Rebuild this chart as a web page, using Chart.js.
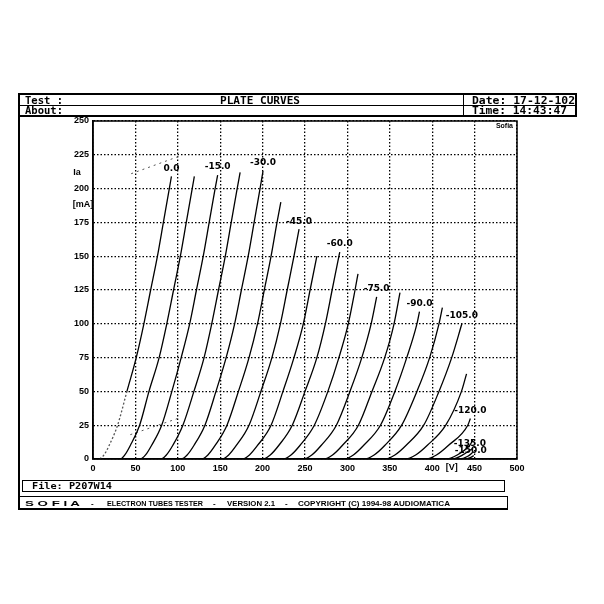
<!DOCTYPE html>
<html>
<head>
<meta charset="utf-8">
<script src="https://cdn.jsdelivr.net/npm/chart.js@4.4.1/dist/chart.umd.min.js"></script>
<style>
  html, body { margin: 0; padding: 0; background: #fff; }
  #wrap { position: relative; width: 604px; height: 604px; overflow: hidden; }
  canvas { position: absolute; left: 0; top: 0; }
  .ln { position: absolute; background: #000; }
  .t { position: absolute; font-family: 'DejaVu Sans Mono', monospace; font-weight: bold;
       font-size: 10px; line-height: 10px; color: #000; white-space: pre; transform-origin: left top; }
  .s { position: absolute; font-family: 'Liberation Sans', Arial, sans-serif; font-weight: bold;
       font-size: 8px; line-height: 8px; color: #000; white-space: pre; transform-origin: left top; }
</style>
</head>
<body>
<div id="wrap">
  <canvas id="plateChart" width="604" height="604"></canvas>

  <!-- header frame -->
  <div class="ln" style="left:18px;top:93px;width:559px;height:2px"></div>
  <div class="ln" style="left:18px;top:105px;width:559px;height:1px"></div>
  <div class="ln" style="left:18px;top:115px;width:559px;height:2px"></div>
  <div class="ln" style="left:18px;top:93px;width:2px;height:417px"></div>
  <div class="ln" style="left:575px;top:93px;width:2px;height:24px"></div>
  <div class="ln" style="left:463px;top:93px;width:1px;height:24px"></div>

  <div class="t fit" data-w="38" style="left:25px;top:96px">Test :</div>
  <div class="t fit" data-w="80" style="left:220px;top:96px">PLATE CURVES</div>
  <div class="t fit" data-w="38" style="left:25px;top:106px">About:</div>
  <div class="t fit" data-w="103" style="left:472px;top:96px">Date: 17-12-102</div>
  <div class="t fit" data-w="95" style="left:472px;top:106px">Time: 14:43:47</div>

  <!-- footer -->
  <div style="position:absolute;left:22px;top:480px;width:481px;height:10px;border:1px solid #000"></div>
  <div class="t fit" data-w="80" style="left:32px;top:481px;font-size:9.5px">File: P207W14</div>
  <div class="ln" style="left:18px;top:496px;width:490px;height:1px"></div>
  <div class="ln" style="left:18px;top:508px;width:490px;height:2px"></div>
  <div class="ln" style="left:507px;top:496px;width:1px;height:14px"></div>

  <div class="s fit" data-w="55" style="left:25px;top:500px">S O F I A</div>
  <div class="s" style="left:91px;top:500px">-</div>
  <div class="s fit" data-w="96" style="left:107px;top:500px">ELECTRON TUBES TESTER</div>
  <div class="s" style="left:213px;top:500px">-</div>
  <div class="s fit" data-w="48" style="left:227px;top:500px">VERSION 2.1</div>
  <div class="s" style="left:285px;top:500px">-</div>
  <div class="s fit" data-w="152" style="left:298px;top:500px">COPYRIGHT (C) 1994-98 AUDIOMATICA</div>
</div>

<script>
// axis ticks
const voltTicks = [0, 50, 100, 150, 200, 250, 300, 350, 400, 450, 500];
const ampTicks = [0, 25, 50, 75, 100, 125, 150, 175, 200, 225, 250];

// grid voltage of each plate curve (7.5 V steps, every second one is labelled)
const gridBias = ['0.0', '-7.5', '-15.0', '-22.5', '-30.0', '-37.5', '-45.0', '-52.5', '-60.0', '-67.5',
                  '-75.0', '-82.5', '-90.0', '-97.5', '-105.0', '-112.5', '-120.0', '-127.5', '-135.0',
                  '-142.5', '-150.0'];

// plate voltage [V] and plate current [mA]
const curveVolts = [
  [8, 13, 19, 29, 40, 51, 60, 68, 76, 83, 90, 92.5],
  [18, 32, 37.5, 44, 55, 66, 78, 87, 95, 103, 110, 117, 119.5],
  [42, 56, 62, 69, 81, 93, 104, 114, 122, 130, 137, 144, 147],
  [66, 80, 86.5, 94, 106, 119, 131, 140, 148, 156, 163, 170, 173.5],
  [90, 104, 111, 119, 132, 145, 157, 167, 175, 183, 190, 197, 200.5],
  [114, 128, 135.5, 144, 158, 171.5, 184, 194, 202, 210, 217, 221.5],
  [138, 152, 160, 169, 184, 198, 211, 221, 229, 237, 243],
  [162, 176, 184.5, 194, 210, 224, 237, 248, 256, 264],
  [186, 200, 209, 219, 235, 250, 264, 274, 282, 290, 291],
  [210, 224, 233.5, 244, 261, 277, 290, 301, 309, 312.5],
  [234, 248, 258, 269, 287, 303, 317, 328, 334.5],
  [258, 272, 282.5, 294, 313, 329, 344, 355, 362],
  [282, 296, 307, 319, 339, 356, 370, 382, 385],
  [306, 320, 331.5, 344, 364, 382, 397, 408, 412],
  [330, 344, 356, 369, 390, 408, 423, 435],
  [354, 368, 380.5, 394, 416, 434.5, 440.5],
  [378, 392, 405, 419, 442, 445],
  [402, 416, 429.5, 444, 448],
  [410, 424, 436, 448],
  [420, 432, 442, 448],
  [428, 438, 445, 449]
];
const curveAmps = [
  [0, 3, 10, 25, 50, 75, 100, 125, 150, 175, 200, 209],
  [0, 0, 3, 10, 25, 50, 75, 100, 125, 150, 175, 200, 209],
  [0, 0, 3, 10, 25, 50, 75, 100, 125, 150, 175, 200, 210],
  [0, 0, 3, 10, 25, 50, 75, 100, 125, 150, 175, 200, 212],
  [0, 0, 3, 10, 25, 50, 75, 100, 125, 150, 175, 200, 213],
  [0, 0, 3, 10, 25, 50, 75, 100, 125, 150, 175, 190],
  [0, 0, 3, 10, 25, 50, 75, 100, 125, 150, 170],
  [0, 0, 3, 10, 25, 50, 75, 100, 125, 150],
  [0, 0, 3, 10, 25, 50, 75, 100, 125, 150, 153],
  [0, 0, 3, 10, 25, 50, 75, 100, 125, 137],
  [0, 0, 3, 10, 25, 50, 75, 100, 120],
  [0, 0, 3, 10, 25, 50, 75, 100, 123],
  [0, 0, 3, 10, 25, 50, 75, 100, 109],
  [0, 0, 3, 10, 25, 50, 75, 100, 112],
  [0, 0, 3, 10, 25, 50, 75, 100],
  [0, 0, 3, 10, 25, 50, 63],
  [0, 0, 3, 10, 25, 30],
  [0, 0, 3, 10, 14],
  [0, 0, 3, 8],
  [0, 0, 2, 5],
  [0, 0, 1, 2.5]
];

// faint dotted leader traces on the print
const leaderVolts = [[45, 102], [44, 100]];
const leaderAmps = [[211, 224], [18, 30]];

// squeeze header / footer texts to the widths on the print
document.querySelectorAll('.fit').forEach(el => {
  const w = el.getBoundingClientRect().width;
  el.style.transform = `scaleX(${el.dataset.w / w})`;
});

const datasets = curveVolts.map((vs, i) => ({
  label: gridBias[i],
  data: vs.map((v, j) => ({ x: v, y: curveAmps[i][j] })),
  showLine: true,
  borderColor: '#000',
  borderWidth: 1.3,
  pointRadius: 0,
  cubicInterpolationMode: 'monotone',
  // the 0 V trace is printed faint and dotted in its lower part
  segment: i === 0 ? {
    borderDash: c => (c.p1.parsed.y <= 50 ? [2, 2] : undefined),
    borderColor: c => (c.p1.parsed.y <= 50 ? '#555' : undefined)
  } : undefined
}));
leaderVolts.forEach((vs, i) => {
  datasets.push({
    label: 'leader' + i,
    data: vs.map((v, j) => ({ x: v, y: leaderAmps[i][j] })),
    showLine: true,
    borderColor: '#555',
    borderWidth: 1,
    borderDash: [2, 4],
    pointRadius: 0
  });
});

// plot border, curve labels and unit texts
const platePlugin = {
  id: 'platePlugin',
  afterDraw(chart) {
    const { ctx, chartArea: a, scales: { x, y } } = chart;
    ctx.save();
    ctx.strokeStyle = '#000';
    ctx.lineWidth = 1.5;
    ctx.strokeRect(a.left, a.top, a.right - a.left, a.bottom - a.top);

    ctx.fillStyle = '#000';
    ctx.textAlign = 'center';
    ctx.textBaseline = 'middle';
    ctx.font = 'bold 9px "DejaVu Sans"';
    curveVolts.forEach((vs, i) => {
      if (i % 2) return;
      const last = vs.length - 1;
      const px = Math.min(x.getPixelForValue(vs[last]), a.right - 20);
      const lift = curveAmps[i][last] < 20 ? 5 : 8;
      ctx.fillText(gridBias[i], px - (lift === 5 ? 3 : 0), y.getPixelForValue(curveAmps[i][last]) - lift);
    });

    ctx.font = 'bold 9px "Liberation Sans"';
    ctx.fillText('[V]', x.getPixelForValue(423), a.bottom + 9);
    ctx.fillText('Ia', 77, y.getPixelForValue(212));
    ctx.fillText('[mA]', 83, y.getPixelForValue(188));
    ctx.font = 'bold 7px "Liberation Sans"';
    ctx.textAlign = 'right';
    ctx.fillText('Sofia', a.right - 4, a.top + 5);
    ctx.restore();
  }
};

new Chart(document.getElementById('plateChart').getContext('2d'), {
  type: 'scatter',
  data: { datasets },
  options: {
    responsive: false,
    animation: false,
    devicePixelRatio: 1,
    layout: { padding: { left: 0, right: 87, top: 121, bottom: 0 } },
    plugins: { legend: { display: false }, tooltip: { enabled: false } },
    scales: {
      x: {
        type: 'linear',
        min: voltTicks[0],
        max: voltTicks[voltTicks.length - 1],
        afterBuildTicks: s => { s.ticks = voltTicks.map(v => ({ value: v })); },
        afterFit: s => { s.height = 145; },
        ticks: { color: '#000', padding: 4, font: { family: 'Liberation Sans', size: 9, weight: 'bold' } },
        grid: { color: '#000', lineWidth: 1.3, drawTicks: false },
        border: { display: true, color: '#000', width: 1.5, dash: [1.5, 2] }
      },
      y: {
        type: 'linear',
        min: ampTicks[0],
        max: ampTicks[ampTicks.length - 1],
        afterBuildTicks: s => { s.ticks = ampTicks.map(v => ({ value: v })); },
        afterFit: s => { s.width = 93; },
        ticks: { color: '#000', padding: 4, font: { family: 'Liberation Sans', size: 9, weight: 'bold' } },
        grid: { color: '#000', lineWidth: 1.3, drawTicks: false },
        border: { display: true, color: '#000', width: 1.5, dash: [1.5, 2] }
      }
    }
  },
  plugins: [platePlugin]
});
</script>
</body>
</html>
